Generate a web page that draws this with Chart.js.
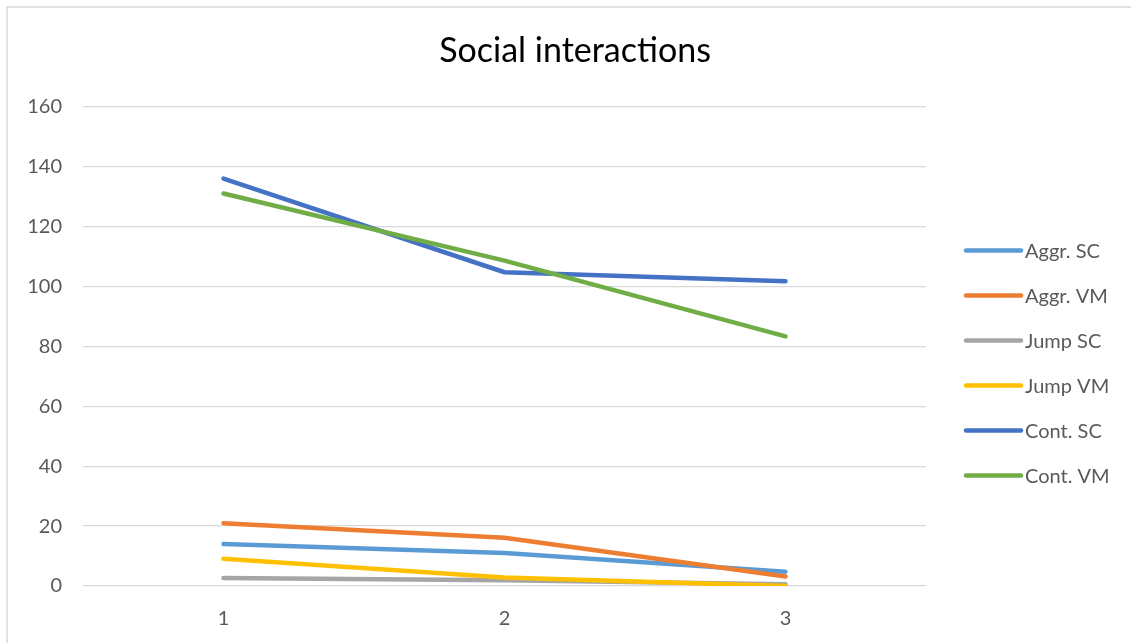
<!DOCTYPE html>
<html>
<head>
<meta charset="utf-8">
<title>Social interactions</title>
<script src="https://cdn.jsdelivr.net/npm/chart.js@4"></script>
<style>
  html, body { margin: 0; padding: 0; background: #ffffff; }
  #wrap { position: relative; width: 1131px; height: 643px; }
  canvas { display: block; }
</style>
</head>
<body>
<div id="wrap"><canvas id="chart"></canvas></div>
<script>
// Measurement rounds
const categories = ['1', '2', '3'];

// Series values
const aggrSC = [14.0, 11.0, 4.8];
const aggrVM = [21.0, 16.1, 3.2];
const jumpSC = [2.7, 1.9, 0.6];
const jumpVM = [9.1, 2.8, 0.0];
const contSC = [136.1, 104.8, 101.8];
const contVM = [131.1, 108.7, 83.4];

const seriesNames = ['Aggr. SC', 'Aggr. VM', 'Jump SC', 'Jump VM', 'Cont. SC', 'Cont. VM'];
const seriesValues = [aggrSC, aggrVM, jumpSC, jumpVM, contSC, contVM];
const seriesColors = ['#5B9BD5', '#ED7D31', '#A5A5A5', '#FFC000', '#4472C4', '#70AD47'];

// Value axis range
const yMin = 0;
const yMax = 160;
const yStep = 20;

const chartTitle = 'Social interactions';

const FONT = 'Lato, "Liberation Sans", sans-serif';
const LABEL_COLOR = '#595959';
const GRID_COLOR = '#d9d9d9';
const LINE_WIDTH = 4.5;

Chart.defaults.font.family = FONT;

const datasets = seriesNames.map((name, i) => ({
  label: name,
  data: seriesValues[i],
  borderColor: seriesColors[i],
  backgroundColor: seriesColors[i],
  borderWidth: LINE_WIDTH,
  borderCapStyle: 'round',
  borderJoinStyle: 'round',
  pointRadius: 0,
  pointHoverRadius: 0,
  tension: 0,
  fill: false,
  // later series are painted above earlier ones
  order: seriesNames.length - i
}));

// Frame, title and legend drawn around the plot
const decorations = {
  id: 'decorations',
  beforeDraw(chart) {
    const ctx = chart.ctx;
    ctx.save();
    ctx.fillStyle = '#ffffff';
    ctx.fillRect(0, 0, chart.width, chart.height);
    ctx.strokeStyle = GRID_COLOR;
    ctx.lineWidth = 1.5;
    ctx.strokeRect(7, 7, chart.width + 20, chart.height + 20);
    ctx.restore();
  },
  afterDraw(chart) {
    const ctx = chart.ctx;
    ctx.save();
    // title
    ctx.fillStyle = '#000000';
    ctx.font = '34px ' + FONT;
    ctx.textAlign = 'center';
    ctx.textBaseline = 'middle';
    ctx.fillText(chartTitle, 575, 51);

    // legend
    const x0 = 966, x1 = 1021, top = 250.5, gap = 45;
    ctx.font = '20px ' + FONT;
    ctx.textAlign = 'left';
    ctx.textBaseline = 'middle';
    chart.data.datasets.forEach((ds, i) => {
      const y = top + i * gap;
      ctx.strokeStyle = ds.borderColor;
      ctx.lineWidth = LINE_WIDTH;
      ctx.lineCap = 'round';
      ctx.beginPath();
      ctx.moveTo(x0, y);
      ctx.lineTo(x1, y);
      ctx.stroke();
      ctx.fillStyle = LABEL_COLOR;
      ctx.fillText(ds.label, x1 + 4, y + 1);
    });
    ctx.restore();
  }
};

new Chart(document.getElementById('chart'), {
  type: 'line',
  data: { labels: categories, datasets },
  options: {
    responsive: true,
    maintainAspectRatio: false,
    animation: false,
    devicePixelRatio: 1,
    layout: { padding: { top: 107, right: 205, bottom: 0, left: 0 } },
    plugins: {
      legend: { display: false },
      title: { display: false },
      tooltip: { enabled: false }
    },
    scales: {
      x: {
        type: 'category',
        offset: true,
        grid: { display: false, drawTicks: false },
        border: { display: false },
        ticks: { color: LABEL_COLOR, font: { size: 20 }, padding: 21, maxRotation: 0 },
        afterFit(scale) { scale.height = 57; }
      },
      y: {
        min: yMin,
        max: yMax,
        grid: { color: GRID_COLOR, lineWidth: 1.3, drawTicks: false },
        border: { display: false },
        ticks: { stepSize: yStep, color: LABEL_COLOR, font: { size: 20 }, padding: 21 },
        afterFit(scale) { scale.width = 83; }
      }
    }
  },
  plugins: [decorations]
});
</script>
</body>
</html>
